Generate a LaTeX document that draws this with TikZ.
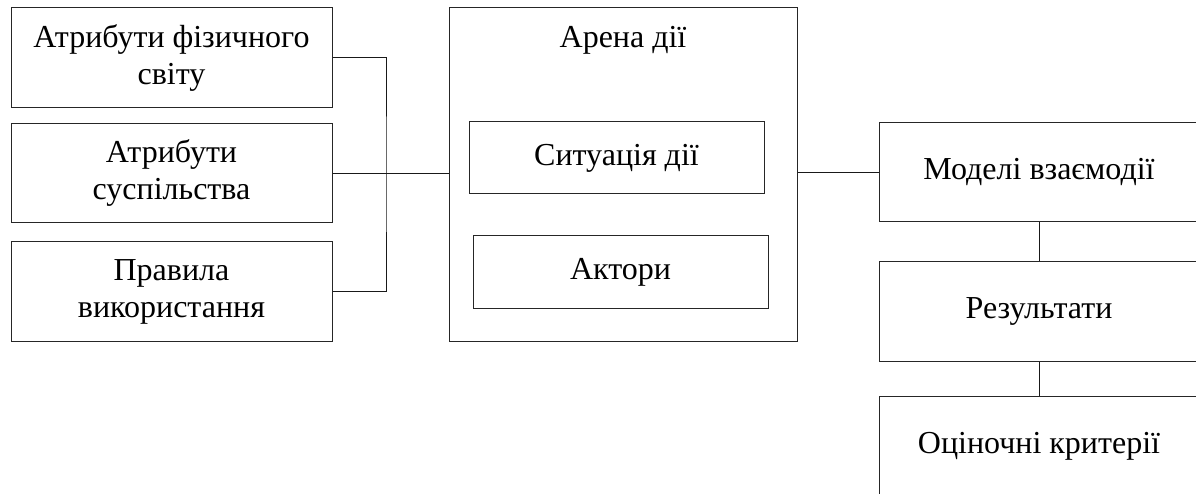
\documentclass[tikz,border=0pt]{standalone}
\usepackage{fontspec}
\setmainfont{Liberation Serif}
\tikzset{
  blok/.style={draw=black!85, line width=1pt, rectangle, inner sep=0pt, align=center,
    font=\fontsize{32}{37}\selectfont},
  zv/.style={draw=black!90, line width=1pt}
}
\begin{document}
\begin{tikzpicture}[x=1pt,y=-1pt]
                \clip (0,0) rectangle (1196,494);
                \node[blok, minimum width=321pt, minimum height=100pt] (fizsvit) at (171.5,58) {Атрибути фізичного\\світу};
                \node[blok, minimum width=321pt, minimum height=99pt] (suspil) at (171.5,173.5) {Атрибути\\суспільства};
                \node[blok, minimum width=321pt, minimum height=99pt] (pravyla) at (171.5,291.5) {Правила\\використання};
                \node[blok, minimum width=348pt, minimum height=333pt] (arena) at (623,174.5) {};
                \node[font=\fontsize{32}{37}\selectfont, anchor=base] (arenatxt) at (623,48) {Арена дії};
                \node[blok, minimum width=295pt, minimum height=72pt] (sytuatsiya) at (616.5,158) {Ситуація дії};
                \node[blok, minimum width=295pt, minimum height=72pt] (aktory) at (620.5,272) {Актори};
                \node[blok, minimum width=320pt, minimum height=99pt] (modeli) at (1039,172.5) {Моделі взаємодії};
                \node[blok, minimum width=320pt, minimum height=99pt] (rezult) at (1039,311.5) {Результати};
                \node[blok, minimum width=320pt, minimum height=100pt] (kryterii) at (1039,446) {Оціночні критерії};
                \coordinate (zbir) at (386,174);
                \draw[zv] (fizsvit.east) -| (zbir) |- (pravyla.east);
                \draw[zv] (suspil.east) -- (suspil.east -| arena.west);
                \draw[zv] (arena.east |- modeli.west) -- (modeli.west);
                \draw[zv] (modeli.south) -- (rezult.north);
                \draw[zv] (rezult.south) -- (kryterii.north);
            \end{tikzpicture}
\end{document}
